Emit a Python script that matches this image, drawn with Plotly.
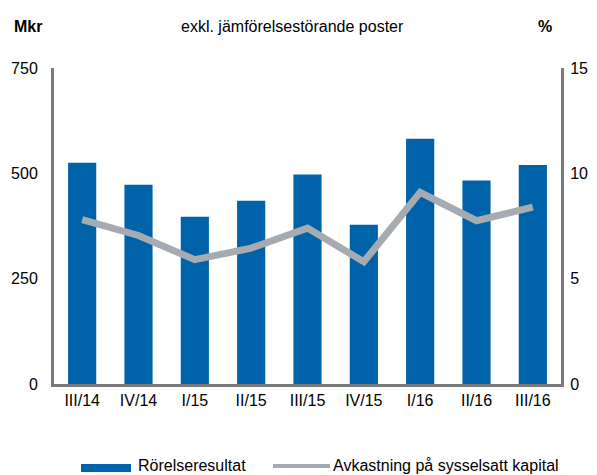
import plotly.graph_objects as go

categories = ["III/14", "IV/14", "I/15", "II/15", "III/15", "IV/15", "I/16", "II/16", "III/16"]
rorelseresultat = [525, 473, 397, 435, 497, 378, 582, 483, 520]
avkastning = [7.8, 7.05, 5.9, 6.45, 7.4, 5.8, 9.1, 7.75, 8.4]
left_ticks = [0, 250, 500, 750]
right_ticks = [0, 5, 10, 15]

FONT = "Liberation Sans, Arial, sans-serif"
BLUE = "#0063a9"
GREY = "#a5abb1"
AXIS = "#7a7a7a"

# page body has an 8px margin: work in window pixels and subtract it
OFF = 8
WIN_W, WIN_H = 597, 475
PLOT_L, PLOT_R, PLOT_T, PLOT_B = 54, 561, 68, 384   # window pixels of the plot area
W, H = WIN_W - OFF, WIN_H - OFF
L = PLOT_L - OFF
T = PLOT_T - OFF
R = W - (PLOT_R - OFF)
B = H - (PLOT_B - OFF)
PW, PH = PLOT_R - PLOT_L, PLOT_B - PLOT_T

def px(x):
    return (x - PLOT_L) / PW

def py(y):
    return (PLOT_B - y) / PH

fig = go.Figure()
fig.add_trace(go.Bar(x=categories, y=rorelseresultat, name="Rörelseresultat",
                     marker=dict(color=BLUE, line=dict(width=0)), showlegend=False))
fig.add_trace(go.Scatter(x=categories, y=avkastning, name="Avkastning på sysselsatt kapital",
                         mode="lines", line=dict(color=GREY, width=7), yaxis="y2",
                         showlegend=False))

fig.update_layout(
    width=W, height=H,
    margin=dict(l=L, r=R, t=T, b=B, pad=0, autoexpand=False),
    paper_bgcolor="white", plot_bgcolor="white",
    font=dict(family=FONT, size=16, color="black"),
    bargap=0.5,
    xaxis=dict(showgrid=False, showline=True, linecolor=AXIS, linewidth=3,
               ticks="", tickfont=dict(size=16), zeroline=False, automargin=False),
    yaxis=dict(range=[0, 750], tickvals=left_ticks, showgrid=False, zeroline=False,
               showline=True, linecolor=AXIS, linewidth=3, ticks="",
               ticklabelstandoff=10, automargin=False),
    yaxis2=dict(range=[0, 15], tickvals=right_ticks, overlaying="y", side="right",
                showgrid=False, zeroline=False, showline=True, linecolor=AXIS,
                linewidth=3, ticks="", ticklabelstandoff=3, automargin=False),
    showlegend=False,
)

annotations = [
    dict(text="<b>Mkr</b>", x=px(28), y=py(27), xanchor="center", yanchor="middle"),
    dict(text="exkl. jämförelsestörande poster", x=px(292), y=py(27), xanchor="center", yanchor="middle"),
    dict(text="<b>%</b>", x=px(545), y=py(27), xanchor="center", yanchor="middle"),
    dict(text="Rörelseresultat", x=px(136), y=py(465), xanchor="left", yanchor="middle"),
    dict(text="Avkastning på sysselsatt kapital", x=px(331), y=py(465), xanchor="left", yanchor="middle"),
]
for a in annotations:
    a.update(xref="paper", yref="paper", showarrow=False, font=dict(family=FONT, size=16, color="black"))
fig.update_layout(annotations=annotations)

fig.add_shape(type="rect", xref="paper", yref="paper", x0=px(81), x1=px(131), y0=py(472), y1=py(464),
              fillcolor=BLUE, line=dict(width=0))
fig.add_shape(type="line", xref="paper", yref="paper", x0=px(273), x1=px(330), y0=py(466), y1=py(466),
              line=dict(color=GREY, width=4))

fig.write_html("out.html")
